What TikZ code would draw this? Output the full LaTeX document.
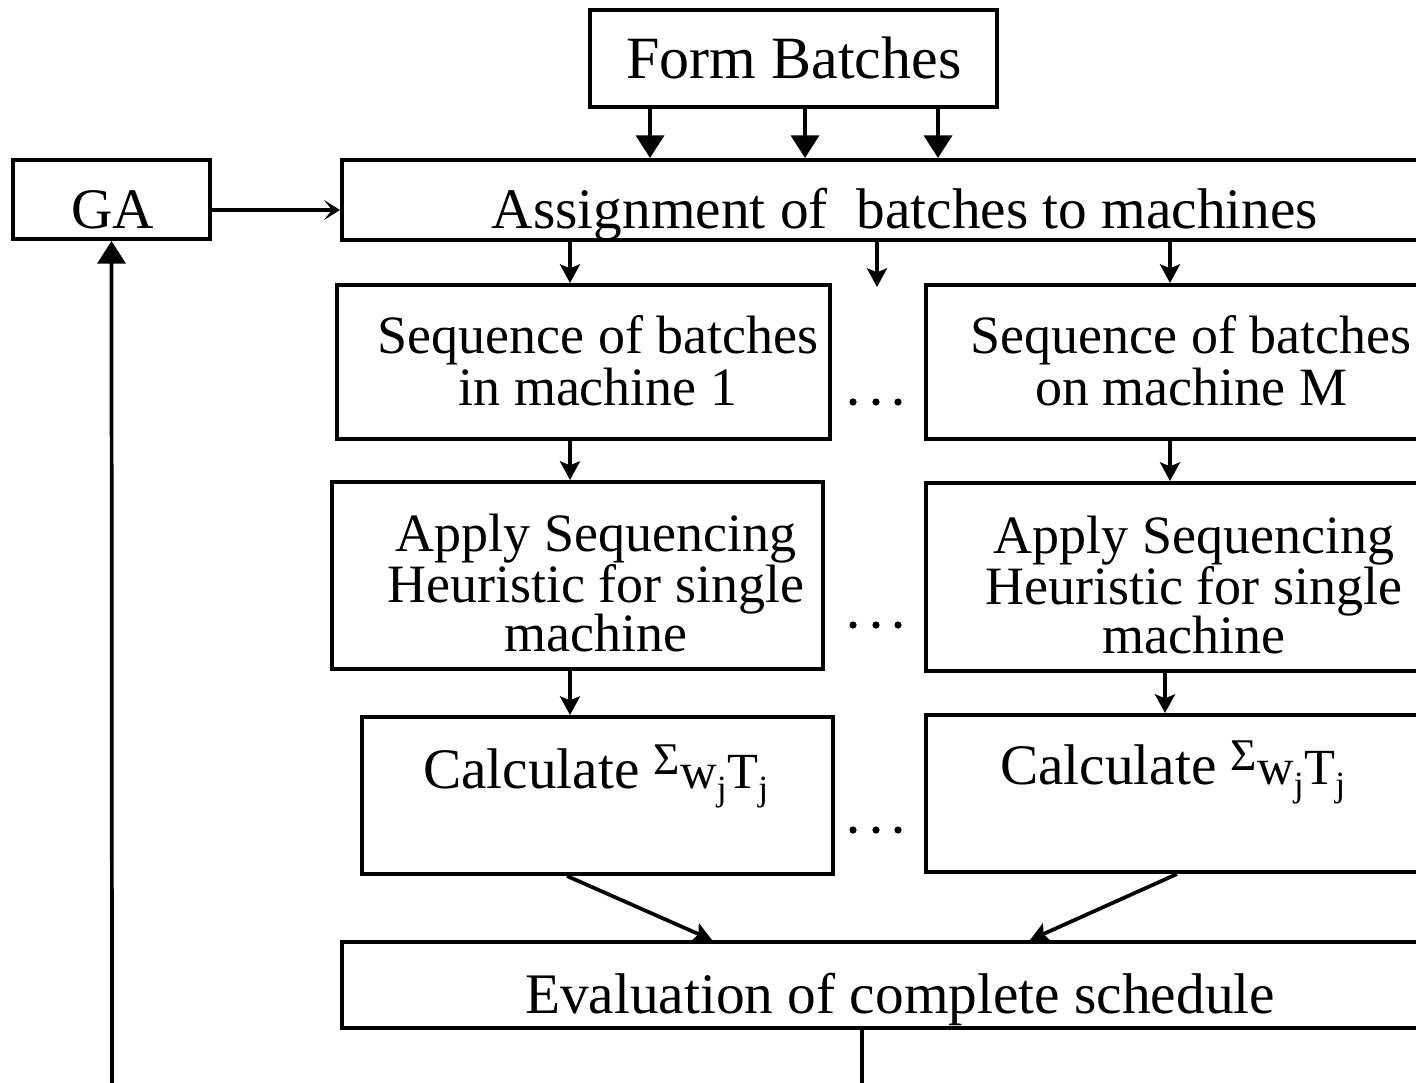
\documentclass[tikz,border=0pt]{standalone}
\usepackage{fontspec}
\setmainfont{Liberation Serif}
\usetikzlibrary{arrows.meta}
\begin{document}
\begin{tikzpicture}[x=0.75pt,y=-0.75pt,
  box/.style={draw,line width=3pt,inner sep=0pt},
  txt/.style={inner sep=0pt,align=center,font=\fontsize{43}{46}\selectfont},
  bigtxt/.style={inner sep=0pt,align=center,font=\fontsize{45}{50}\selectfont},
  midtxt/.style={inner sep=0pt,align=center,font=\fontsize{40.5}{39}\selectfont},
  aptxt/.style={inner sep=0pt,align=center,font=\fontsize{40.5}{37}\selectfont},
  arr/.style={line width=2.8pt,-{Stealth[length=14pt,width=15pt,inset=3pt]}},
  triarr/.style={line width=2.8pt,-{Triangle[length=17pt,width=21pt]}},
  barb/.style={line width=2.8pt,-{Stealth[length=12pt,width=15pt,inset=6pt]}},
  ln/.style={line width=2.8pt},
  dot/.style={circle,fill,inner sep=0pt,minimum size=5.4pt}]
\useasboundingbox (0,0) rectangle (1416,1082);
% boxes
\node[box,minimum width=305.25pt,minimum height=72.75pt] (form) at (793.5,58.5) {};
\node[box,minimum width=147.75pt,minimum height=59.25pt] (ga) at (111.5,199.5) {};
\node[box,minimum width=844.5pt,minimum height=60pt] (assign) at (905,200) {};
\node[box,minimum width=369.75pt,minimum height=115.5pt] (seq1) at (583.5,362) {};
\node[box,minimum width=397.5pt,minimum height=115.5pt] (seqM) at (1191,362) {};
\node[box,minimum width=368.25pt,minimum height=140.25pt] (ap1) at (577.5,575.5) {};
\node[box,minimum width=400.5pt,minimum height=141pt] (apM) at (1193,577) {};
\node[box,minimum width=353.25pt,minimum height=117.75pt] (calc1) at (597.5,795.5) {};
\node[box,minimum width=370.5pt,minimum height=117.75pt] (calcM) at (1173,793.5) {};
\node[box,minimum width=837pt,minimum height=64.5pt] (eval) at (900,985) {};
% texts
\node[bigtxt,anchor=base] (formt) at (794,78) {Form Batches};
\node[txt,anchor=base] (gat) at (113,228) {GA};
\node[txt,anchor=base] (assignt) at (905,228) {Assignment of \ batches to machines};
\node[midtxt] (seq1t) at (598,361) {Sequence of batches\\in machine 1};
\node[midtxt] (seqMt) at (1191,361) {Sequence of batches\\on machine M};
\node[aptxt] (ap1t) at (596,583) {Apply Sequencing\\Heuristic for single\\machine};
\node[aptxt] (apMt) at (1194,585) {Apply Sequencing\\Heuristic for single\\machine};
\newcommand{\calctext}{Calculate {\fontsize{34}{34}\selectfont\raisebox{10pt}{Σ}}{\fontsize{38}{38}\selectfont w\textsubscript{j}T\textsubscript{j}}}
\node[txt,anchor=base] (calc1t) at (596,788) {\calctext};
\node[txt,anchor=base] (calcMt) at (1173,784) {\calctext};
\node[txt,anchor=base] (evalt) at (900,1013) {Evaluation of complete schedule};
% dots
\foreach \y/\n in {402/a,625/b,830/c}{
  \node[dot] (d1\n) at (853,\y) {};
  \node[dot] (d2\n) at (876,\y) {};
  \node[dot] (d3\n) at (898,\y) {};
}
% coordinates
\coordinate (midend) at (877,287);
\coordinate (evout) at (862,1090);
\coordinate (gain) at (112,1090);
% connectors
\foreach \x in {650,805,938}
  \draw[triarr] (\x,0 |- form.south) -- (\x,0 |- assign.north);
\draw[arr] (570,0 |- assign.south) -- (570,0 |- seq1.north);
\draw[arr] (877,0 |- assign.south) -- (midend);
\draw[arr] (1170,0 |- assign.south) -- (1170,0 |- seqM.north);
\draw[arr] (570,0 |- seq1.south) -- (570,0 |- ap1.north);
\draw[arr] (1170,0 |- seqM.south) -- (1170,0 |- apM.north);
\draw[arr] (570,0 |- ap1.south) -- (570,0 |- calc1.north);
\draw[arr] (1165,0 |- apM.south) -- (1165,0 |- calcM.north);
\draw[arr] (567,0 |- calc1.south) -- (712,0 |- eval.north);
\draw[arr] (1177,0 |- calcM.south) -- (1030,0 |- eval.north);
\draw[ln] (862,0 |- eval.south) -- (evout);
\draw[triarr] (gain) -- (ga.south);
\draw[barb] (ga.east |- 0,210) -- (assign.west |- 0,210);
\end{tikzpicture}
\end{document}
